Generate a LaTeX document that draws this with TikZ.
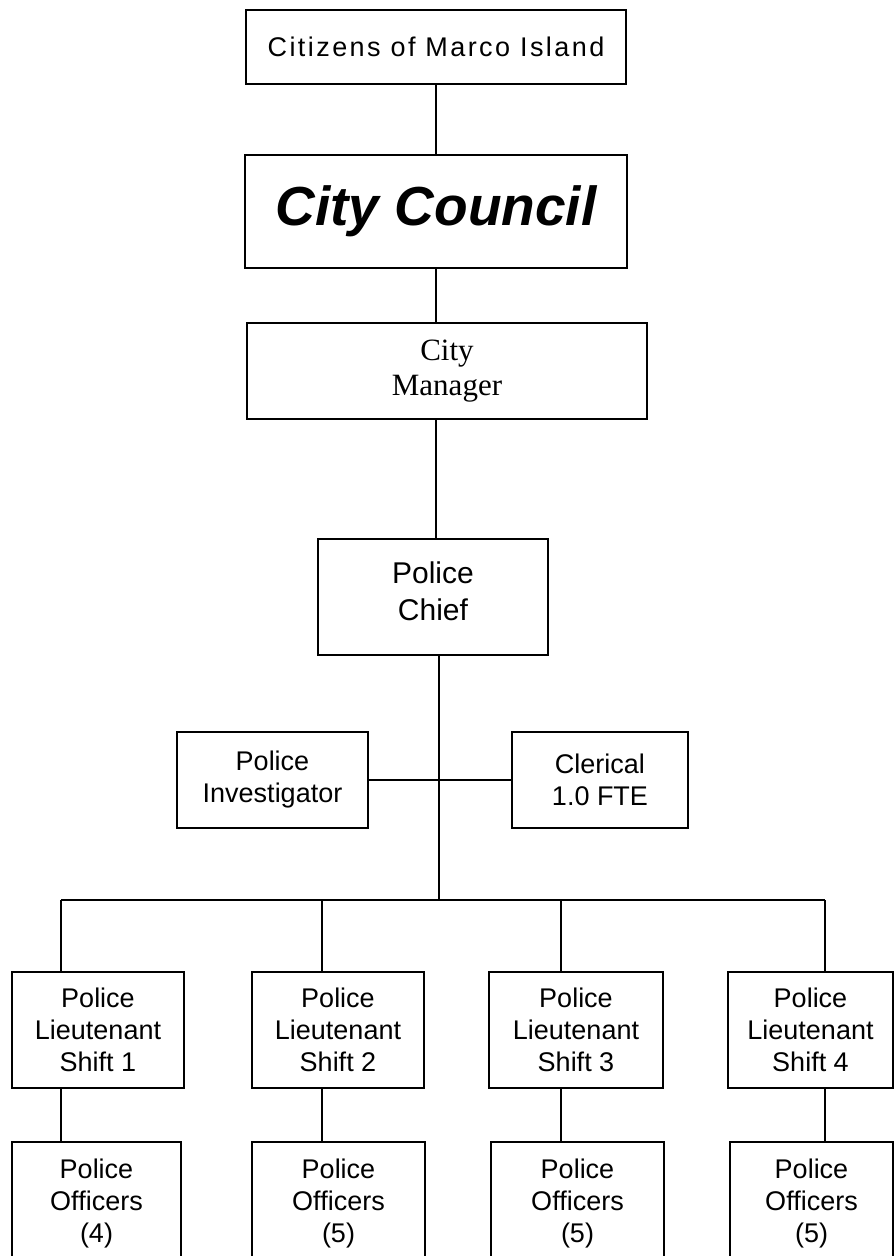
\documentclass[tikz,border=0pt]{standalone}
\usepackage{fontspec}
\setmainfont{Liberation Sans}
\newfontfamily\serifont{Liberation Serif}
\begin{document}
\begin{tikzpicture}[x=1pt,y=-1pt,
  box/.style={draw, line width=2.5pt, align=center, inner sep=0pt,
    font=\fontsize{27}{32}\selectfont},
  conn/.style={line width=2.5pt}]
\fill[white] (0,0) rectangle (895,1256);
\useasboundingbox (0,0) rectangle (895,1256);
% top chain
\node[box, minimum width=380pt, minimum height=74pt,
  font=\addfontfeatures{LetterSpace=9}\fontsize{27}{32}\selectfont] (cit) at (436,47) {Citizens of Marco Island};
\node[box, minimum width=382pt, minimum height=113pt,
  font=\fontsize{55}{60}\selectfont\bfseries\itshape] (cc) at (436,211.5) {City Council};
\node[box, minimum width=400pt, minimum height=96pt,
  font=\serifont\fontsize{31}{35}\selectfont] (cm) at (447,371) {City\\Manager};
\node[box, minimum width=230pt, minimum height=116pt, text depth=12pt,
  font=\fontsize{30}{37}\selectfont] (ch) at (433,597) {Police\\Chief};
\node[box, minimum width=191pt, minimum height=96pt] (inv) at (272.5,780) {Police\\Investigator};
\node[box, minimum width=176pt, minimum height=96pt] (cle) at (600,780) {Clerical\\1.0 FTE};
% lieutenants
\node[box, minimum width=172pt, minimum height=116pt] (l1) at (98,1030) {Police\\Lieutenant\\Shift 1};
\node[box, minimum width=172pt, minimum height=116pt] (l2) at (338,1030) {Police\\Lieutenant\\Shift 2};
\node[box, minimum width=174pt, minimum height=116pt] (l3) at (576,1030) {Police\\Lieutenant\\Shift 3};
\node[box, minimum width=165pt, minimum height=116pt] (l4) at (810.5,1030) {Police\\Lieutenant\\Shift 4};
% officers
\node[box, minimum width=169pt, minimum height=122pt] (o1) at (96.5,1203) {Police\\Officers\\(4)};
\node[box, minimum width=173pt, minimum height=122pt] (o2) at (338.5,1203) {Police\\Officers\\(5)};
\node[box, minimum width=173pt, minimum height=122pt] (o3) at (577.5,1203) {Police\\Officers\\(5)};
\node[box, minimum width=163pt, minimum height=122pt] (o4) at (811.5,1203) {Police\\Officers\\(5)};
% connectors
\coordinate (bj) at (439,900);
\coordinate (b1) at (61,900);
\coordinate (b2) at (322,900);
\coordinate (b3) at (561,900);
\coordinate (b4) at (825,900);
\draw[conn] (cit.south) -- (cc.north);
\draw[conn] (cc.south) -- (cc.south |- cm.north);
\draw[conn] (cm.south -| cc.south) -- (ch.north -| cc.south);
\draw[conn] (ch.south -| bj) -- (bj);
\draw[conn] (inv.east) -- (cle.west);
\draw[conn] (b1) -- (b4);
\draw[conn] (b1) -- (b1 |- l1.north);
\draw[conn] (b2) -- (b2 |- l2.north);
\draw[conn] (b3) -- (b3 |- l3.north);
\draw[conn] (b4) -- (b4 |- l4.north);
\draw[conn] (l1.south -| b1) -- (o1.north -| b1);
\draw[conn] (l2.south -| b2) -- (o2.north -| b2);
\draw[conn] (l3.south -| b3) -- (o3.north -| b3);
\draw[conn] (l4.south -| b4) -- (o4.north -| b4);
\end{tikzpicture}
\end{document}
